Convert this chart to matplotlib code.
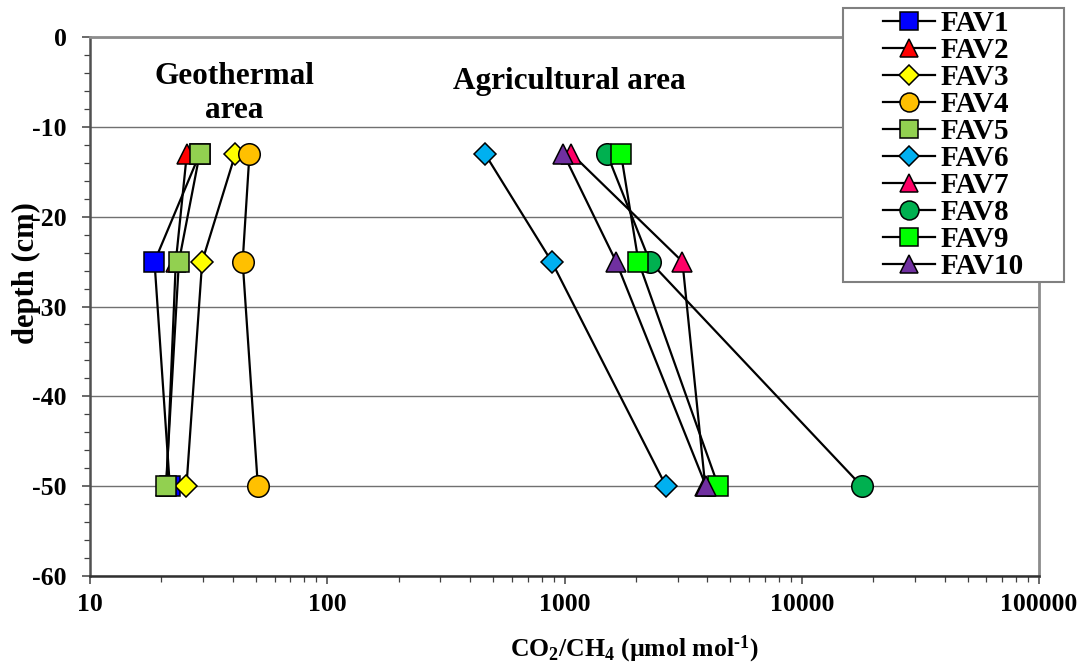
import matplotlib
matplotlib.use("Agg")
import matplotlib.pyplot as plt
from matplotlib.patches import Rectangle
from matplotlib.ticker import LogLocator, NullFormatter, MultipleLocator

plt.rcParams['font.family'] = ['Liberation Serif', 'DejaVu Serif']
plt.rcParams['font.weight'] = 'bold'
plt.rcParams['axes.unicode_minus'] = False
plt.rcParams['mathtext.fontset'] = 'custom'
plt.rcParams['mathtext.rm'] = 'Liberation Serif:bold'
plt.rcParams['mathtext.bf'] = 'Liberation Serif:bold'
plt.rcParams['mathtext.it'] = 'Liberation Serif:bold'

# sampling depths (cm)
depth = [-13, -25, -50]

sites = ["FAV1", "FAV2", "FAV3", "FAV4", "FAV5",
         "FAV6", "FAV7", "FAV8", "FAV9", "FAV10"]

# CO2/CH4 ratio at -13, -25, -50 cm
fav1 = [29, 18.7, 21.7]
fav2 = [25.6, 23, 21]
fav3 = [41, 29.7, 25.5]
fav4 = [47, 44, 51]
fav5 = [29, 23.7, 20.9]
fav6 = [462, 883, 2680]
fav7 = [1070, 3140, 3920]
fav8 = [1510, 2290, 17900]
fav9 = [1730, 2050, 4450]
fav10 = [990, 1650, 3950]
ratios = [fav1, fav2, fav3, fav4, fav5, fav6, fav7, fav8, fav9, fav10]

xticks = [10, 100, 1000, 10000, 100000]
yticks = [0, -10, -20, -30, -40, -50, -60]

colors = ['#0000FF', '#FF0000', '#FFFF00', '#FFC000', '#92D050',
          '#00B0F0', '#FF0066', '#00B050', '#00FF00', '#7030A0']
markers = ['s', '^', 'D', 'o', 's', 'D', '^', 'o', 's', '^']
msize = {'s': 14, '^': 14.5, 'D': 11, 'o': 15.5}

fig = plt.figure(figsize=(10.83, 6.66), dpi=100)
ax = fig.add_axes([90 / 1083, 1 - 576 / 666, 949 / 1083, 539 / 666])

for i, (name, vals) in enumerate(zip(sites, ratios)):
    m = markers[i]
    ax.plot(vals, depth, color='black', lw=1.6, marker=m, ms=msize[m],
            mfc=colors[i], mec='black', mew=1.1, label=name,
            zorder=3 + i, clip_on=False)

ax.set_xscale('log')
ax.set_xlim(10, 100000)
ax.set_ylim(-60, 0)
ax.set_xticks(xticks)
ax.set_xticklabels([str(v) for v in xticks])
ax.xaxis.set_minor_locator(LogLocator(base=10, subs=range(2, 10)))
ax.xaxis.set_minor_formatter(NullFormatter())
ax.set_yticks(yticks)
ax.set_yticklabels([str(v) for v in yticks])
ax.yaxis.set_minor_locator(MultipleLocator(2))

ax.tick_params(axis='both', which='major', labelsize=18.5, direction='out',
               color='#404040', width=1.1)
ax.tick_params(axis='x', which='major', length=6, pad=6.5)
ax.tick_params(axis='x', which='minor', length=4.3, width=0.9, color='#404040')
ax.tick_params(axis='y', which='major', length=6, pad=11)
ax.tick_params(axis='y', which='minor', length=4.3, width=0.9, color='#404040')

ax.yaxis.grid(True, which='major', color='#707070', lw=1.0)
ax.set_axisbelow(True)

for s in ['top', 'right']:
    ax.spines[s].set_color('#8c8c8c')
    ax.spines[s].set_linewidth(2)
ax.spines['left'].set_color('#505050')
ax.spines['left'].set_linewidth(1.8)
ax.spines['bottom'].set_color('#303030')
ax.spines['bottom'].set_linewidth(1.8)

ax.set_xlabel(r'CO$_{2}$/CH$_{4}$ (µmol mol$^{\text{-1}}$)',
              fontsize=18.5, fontweight='bold', va='baseline')
ax.xaxis.set_label_coords(0.574, -0.150)
ax.set_ylabel('depth (cm)', fontsize=22, fontweight='bold', va='center')
ax.yaxis.set_label_coords(-0.0674, 0.562)

ax.text(40.5, -6.3, 'Geothermal\narea', fontsize=22.5, fontweight='bold',
        ha='center', va='center', multialignment='center', linespacing=1.2)
ax.text(1045, -5.0, 'Agricultural area', fontsize=22.5, fontweight='bold',
        ha='center', va='center')

# legend box sits partly outside the plot area
box = Rectangle((843 / 1083, 1 - 282 / 666), 221 / 1083, 274 / 666,
                transform=fig.transFigure, facecolor='white',
                edgecolor='#808080', lw=1.5, zorder=10)
fig.patches.append(box)
handles, labels = ax.get_legend_handles_labels()
leg = fig.legend(handles, labels, loc='center',
                 bbox_to_anchor=(953.5 / 1083, 1 - 145 / 666),
                 frameon=False, prop={'weight': 'bold', 'size': 21},
                 labelspacing=0.0, handlelength=1.8, handletextpad=0.2,
                 markerscale=0.88, borderpad=0.0)
leg.set_zorder(11)

fig.savefig('out.png', dpi=100)
